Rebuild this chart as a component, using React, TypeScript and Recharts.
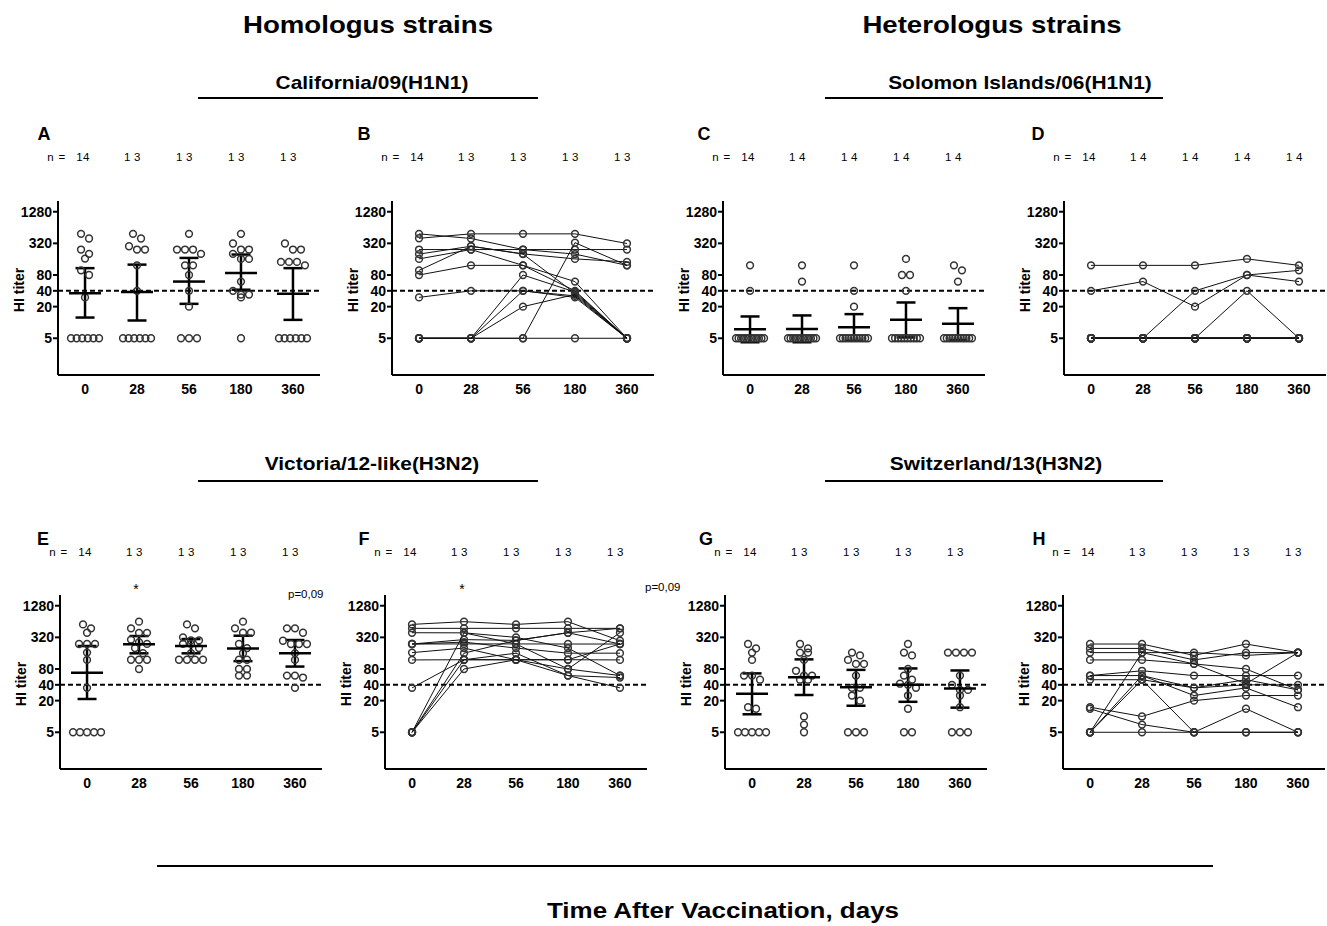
import React from "react";
import {
  ComposedChart,
  Scatter,
  XAxis,
  YAxis,
  ReferenceLine,
  ErrorBar,
} from "recharts";

// ---- data (HI titers) ----
const days = ["0", "28", "56", "180", "360"];
const yTicks = [5, 20, 40, 80, 320, 1280];

const calCounts = [14, 13, 13, 13, 13];
const solCounts = [14, 14, 14, 14, 14];
const vicCounts = [14, 13, 13, 13, 13];
const swiCounts = [14, 13, 13, 13, 13];

// California/09 (A) individual titers per day
const calPoints = [
  [485, 396, 244, 202, 164, 98, 80, 30, 5, 5, 5, 5, 5, 5],
  [485, 396, 282, 244, 244, 122, 40, 5, 5, 5, 5, 5, 5],
  [485, 244, 244, 244, 202, 122, 122, 80, 40, 20, 5, 5, 5],
  [485, 318, 244, 244, 202, 162, 162, 60, 40, 34, 34, 30, 5],
  [318, 244, 244, 142, 142, 142, 122, 5, 5, 5, 5, 5, 5],
];
const calMean = [36, 38, 60, 87, 35];
const calLow = [12.4, 10.9, 22.6, 42, 11.2];
const calHigh = [108, 126, 169, 196, 108];

// Solomon Islands/06 (C)
const solPoints = [
  [122, 40, 5, 5, 5, 5, 5, 5, 5, 5, 5, 5, 5, 5],
  [122, 60, 5, 5, 5, 5, 5, 5, 5, 5, 5, 5, 5, 5],
  [122, 40, 20, 5, 5, 5, 5, 5, 5, 5, 5, 5, 5, 5],
  [162, 80, 80, 40, 5, 5, 5, 5, 5, 5, 5, 5, 5, 5],
  [122, 98, 60, 5, 5, 5, 5, 5, 5, 5, 5, 5, 5, 5],
];
const solMean = [7.4, 7.5, 8.1, 11.2, 9.4];
const solLow = [4.2, 4.2, 4.5, 5.2, 4.6];
const solHigh = [13, 13.6, 14.4, 24, 18.7];

// Victoria/12-like (E)
const vicPoints = [
  [565, 475, 392, 239, 239, 239, 164, 119, 35, 5, 5, 5, 5, 5],
  [636, 475, 390, 390, 290, 260, 240, 200, 160, 120, 120, 120, 80],
  [565, 475, 320, 280, 280, 240, 240, 200, 160, 120, 120, 120, 120],
  [636, 475, 392, 392, 239, 200, 160, 120, 120, 80, 80, 60, 60],
  [475, 475, 392, 276, 239, 239, 239, 160, 119, 60, 55, 60, 35],
];
const vicMean = [68, 236, 219, 197, 159];
const vicLow = [21.5, 159, 159, 113, 89];
const vicHigh = [219, 339, 297, 344, 285];

// Switzerland/13 (G)
const swiPoints = [
  [239, 197, 164, 119, 60, 60, 50, 15, 14, 5, 5, 5, 5, 5],
  [239, 197, 164, 164, 119, 74, 60, 60, 50, 50, 10, 7, 5],
  [164, 145, 119, 100, 100, 60, 35, 35, 25, 20, 5, 5, 5],
  [239, 164, 145, 80, 60, 50, 42, 40, 35, 25, 14, 5, 5],
  [164, 164, 164, 164, 60, 40, 32, 32, 25, 15, 5, 5, 5],
];
const swiMean = [27, 55.5, 36, 40, 34];
const swiLow = [11, 25.6, 16, 19, 14.7];
const swiHigh = [66, 122, 77, 82, 75];

// per-subject trajectories (B, D, F, H); null = missing
const calSubjects = [
  [400, 485, 485, 485, 318],
  [485, 396, 244, 200, 122],
  [244, 244, 244, 244, 244],
  [200, 282, 202, 162, 142],
  [162, 244, 122, 60, 5],
  [98, 282, 200, 36, 5],
  [80, 122, 122, 40, 5],
  [30, 40, 40, 30, 5],
  [5, 5, 80, 38, 5],
  [5, 5, 20, 34, 5],
  [5, 5, 5, 330, 122],
  [5, 5, 5, 5, 5],
  [5, 5, 40, 32, 5],
  [5, null, null, null, null],
];
const solSubjects = [
  [122, 122, 122, 162, 122],
  [40, 60, 20, 80, 60],
  [5, 5, 40, 80, 98],
  [5, 5, 5, 40, 5],
  [5, 5, 5, 5, 5],
  [5, 5, 5, 5, 5],
  [5, 5, 5, 5, 5],
  [5, 5, 5, 5, 5],
  [5, 5, 5, 5, 5],
  [5, 5, 5, 5, 5],
  [5, 5, 5, 5, 5],
  [5, 5, 5, 5, 5],
  [5, 5, 5, 5, 5],
  [5, 5, 5, 5, 5],
];
const vicSubjects = [
  [565, 636, 565, 636, 276],
  [475, 475, 475, 475, 475],
  [392, 390, 240, 80, 60],
  [239, 240, 240, 239, 239],
  [239, 290, 280, 392, 239],
  [239, 260, 200, 160, 160],
  [164, 200, 120, 120, 119],
  [119, 120, 120, 120, 239],
  [35, 120, 160, 60, 35],
  [5, 390, 320, 200, 60],
  [5, 160, 280, 392, 475],
  [5, 120, 120, 60, 55],
  [5, 80, 120, 80, 392],
  [5, null, null, null, null],
];
const swiSubjects = [
  [239, 239, 145, 239, 164],
  [197, 197, 119, 164, 164],
  [164, 164, 164, 145, 164],
  [119, 119, 100, 80, 32],
  [60, 74, 60, 60, 60],
  [60, 60, 35, 40, 40],
  [50, 50, 35, 50, 32],
  [15, 10, 20, 25, 25],
  [14, 7, 5, 14, 5],
  [5, 164, 100, 42, 164],
  [5, 60, 25, 35, 15],
  [5, 50, 5, 5, 5],
  [5, 5, 5, 5, 5],
  [5, null, null, null, null],
];

// ---- layout ----
const FONT = '"Liberation Sans", Arial, Helvetica, sans-serif';
const PLOT_W = 262;
const PLOT_H = 174;
const YAXIS_W = 50;
const XAXIS_H = 30;
const M_TOP = 6;
const M_RIGHT = 8;
const X_DOMAIN: [number, number] = [-0.52, 4.52];
const PX_PER_X = PLOT_W / (X_DOMAIN[1] - X_DOMAIN[0]);
const PX_PER_LOG2 = PLOT_H / 11;
const ROW1 = 201;
const ROW2 = 595;

// GraphPad-like scatter: close values are spread out sideways in rows
function swarm(groups: number[][]) {
  const out: { x: number; y: number }[] = [];
  groups.forEach((vals, gi) => {
    const sorted = [...vals].sort((a, b) => b - a);
    const rows: number[][] = [];
    let rowStart = Infinity;
    sorted.forEach((v) => {
      const py = Math.log2(v) * PX_PER_LOG2;
      if (rows.length === 0 || rowStart - py > 6.5) {
        rows.push([v]);
        rowStart = py;
      } else rows[rows.length - 1].push(v);
    });
    rows.forEach((row) => {
      const n = row.length;
      const step = n > 1 ? Math.min(8, 28 / (n - 1)) : 0;
      row.forEach((v, i) =>
        out.push({ x: gi + ((i - (n - 1) / 2) * step) / PX_PER_X, y: v })
      );
    });
  });
  return out;
}

const OpenDot = (p: any) => (
  <circle cx={p.cx} cy={p.cy} r={3.4} fill="none" stroke="#333" strokeWidth={1.5} />
);

const MeanBar = (p: any) => (
  <line x1={p.cx - 16} x2={p.cx + 16} y1={p.cy} y2={p.cy} stroke="#000" strokeWidth={2.5} />
);

interface PanelProps {
  x0: number;
  top: number;
  points?: number[][];
  mean?: number[];
  low?: number[];
  high?: number[];
  subjects?: (number | null)[][];
}

function Panel({ x0, top, points, mean, low, high, subjects }: PanelProps) {
  const width = YAXIS_W + PLOT_W + M_RIGHT;
  const height = M_TOP + PLOT_H + XAXIS_H;
  const axisStyle = { stroke: "#000", strokeWidth: 2 };
  const tickStyle = { fill: "#000", fontSize: 14, fontWeight: 700 };

  const meanData = mean
    ? mean.map((m, i) => ({ x: i, y: m, err: [m - low![i], high![i] - m] }))
    : [];

  return (
    <div style={{ position: "absolute", left: x0 - YAXIS_W, top: top - M_TOP }}>
      <ComposedChart
        width={width}
        height={height}
        margin={{ top: M_TOP, right: M_RIGHT, bottom: 0, left: 0 }}
      >
        <XAxis
          type="number"
          dataKey="x"
          domain={X_DOMAIN}
          ticks={[0, 1, 2, 3, 4]}
          interval={0}
          allowDataOverflow
          height={XAXIS_H}
          tickFormatter={(v) => days[v] ?? ""}
          tick={tickStyle}
          tickLine={false}
          tickSize={6}
          tickMargin={3}
          axisLine={axisStyle}
        />
        <YAxis
          type="number"
          dataKey="y"
          scale="log"
          domain={[1, 2048]}
          ticks={yTicks}
          interval={0}
          allowDataOverflow
          width={YAXIS_W}
          tick={tickStyle}
          tickLine={axisStyle}
          tickSize={5}
          tickMargin={1}
          axisLine={axisStyle}
        />
        <ReferenceLine y={40} stroke="#000" strokeWidth={2} strokeDasharray="5 3" />
        {points && (
          <Scatter data={swarm(points)} shape={OpenDot} isAnimationActive={false} />
        )}
        {mean && (
          <Scatter data={meanData} shape={MeanBar} isAnimationActive={false}>
            <ErrorBar
              dataKey="err"
              direction="y"
              width={9.5}
              stroke="#000"
              strokeWidth={2.5}
              isAnimationActive={false}
            />
          </Scatter>
        )}
        {subjects &&
          subjects.map((s, si) => (
            <Scatter
              key={si}
              data={s
                .map((v, i) => (v == null ? null : { x: i, y: v }))
                .filter((d) => d !== null)}
              shape={OpenDot}
              line={{ stroke: "#111", strokeWidth: 1 }}
              lineType="joint"
              isAnimationActive={false}
            />
          ))}
      </ComposedChart>
    </div>
  );
}

function Txt({
  x,
  y,
  children,
  size,
  bold = false,
  anchor = "middle",
  sx = 1,
  spacing = 0,
  rotate = 0,
}: any) {
  const tx = anchor === "middle" ? "-50%" : anchor === "end" ? "-100%" : "0";
  return (
    <div
      style={{
        position: "absolute",
        left: x,
        top: y,
        transform: `translate(${tx}, -50%) scaleX(${sx}) rotate(${rotate}deg)`,
        fontSize: size,
        fontWeight: bold ? 700 : 400,
        whiteSpace: "nowrap",
        lineHeight: 1,
        letterSpacing: spacing,
        color: "#000",
      }}
    >
      {children}
    </div>
  );
}

function NRow({ x0, y, counts }: { x0: number; y: number; counts: number[] }) {
  const tick = (i: number) => x0 + (i - X_DOMAIN[0]) * PX_PER_X;
  return (
    <>
      <Txt x={tick(0) - 19} y={y} size={11.5} anchor="end" spacing={0.8}>
        n =
      </Txt>
      {counts.map((c, i) => (
        <Txt key={i} x={tick(i) - (i === 0 ? 2 : 3)} y={y} size={11.5} spacing={i === 0 ? 0.5 : 3.5}>
          {c}
        </Txt>
      ))}
    </>
  );
}

const Rule = ({ x1, x2, y }: { x1: number; x2: number; y: number }) => (
  <div
    style={{
      position: "absolute",
      left: x1,
      top: y - 1,
      width: x2 - x1,
      height: 2,
      background: "#000",
    }}
  />
);

export default function App() {
  const panelsX = { A: 58, B: 392, C: 723, D: 1064, E: 60, F: 385, G: 725, H: 1063 };
  return (
    <div
      style={{
        position: "absolute",
        left: 0,
        top: 0,
        width: 1327,
        height: 926,
        background: "#fff",
        fontFamily: FONT,
        overflow: "hidden",
      }}
    >
      <Txt x={368} y={25} size={24} bold sx={1.15}>
        Homologus strains
      </Txt>
      <Txt x={992} y={25} size={24} bold sx={1.15}>
        Heterologus strains
      </Txt>

      <Txt x={372} y={82} size={19} bold sx={1.1}>
        California/09(H1N1)
      </Txt>
      <Txt x={1020} y={82} size={19} bold sx={1.1}>
        Solomon Islands/06(H1N1)
      </Txt>
      <Rule x1={198} x2={538} y={98} />
      <Rule x1={825} x2={1163} y={98} />

      <Txt x={372} y={463} size={19} bold sx={1.1}>
        Victoria/12-like(H3N2)
      </Txt>
      <Txt x={996} y={463} size={19} bold sx={1.1}>
        Switzerland/13(H3N2)
      </Txt>
      <Rule x1={198} x2={538} y={481} />
      <Rule x1={825} x2={1163} y={481} />

      <Rule x1={157} x2={1213} y={866} />
      <Txt x={723} y={911} size={22} bold sx={1.18}>
        Time After Vaccination, days
      </Txt>

      {/* panel letters */}
      <Txt x={44} y={134} size={18} bold>A</Txt>
      <Txt x={364} y={134} size={18} bold>B</Txt>
      <Txt x={704} y={134} size={18} bold>C</Txt>
      <Txt x={1038} y={134} size={18} bold>D</Txt>
      <Txt x={43} y={539} size={18} bold>E</Txt>
      <Txt x={364} y={539} size={18} bold>F</Txt>
      <Txt x={706} y={539} size={18} bold>G</Txt>
      <Txt x={1039} y={539} size={18} bold>H</Txt>

      <NRow x0={panelsX.A} y={158} counts={calCounts} />
      <NRow x0={panelsX.B} y={158} counts={calCounts} />
      <NRow x0={panelsX.C} y={158} counts={solCounts} />
      <NRow x0={panelsX.D} y={158} counts={solCounts} />
      <NRow x0={panelsX.E} y={553} counts={vicCounts} />
      <NRow x0={panelsX.F} y={553} counts={vicCounts} />
      <NRow x0={panelsX.G} y={553} counts={swiCounts} />
      <NRow x0={panelsX.H} y={553} counts={swiCounts} />

      {/* y-axis titles */}
      {Object.entries(panelsX).map(([k, x]) => (
        <Txt
          key={k}
          x={x - 39}
          y={"ABCD".includes(k) ? 290 : 684}
          size={14}
          bold
          rotate={-90}
        >
          HI titer
        </Txt>
      ))}

      {/* significance marks */}
      <Txt x={136} y={589} size={14}>*</Txt>
      <Txt x={462} y={589} size={14}>*</Txt>
      <Txt x={288} y={595} size={11.5} anchor="start">p=0,09</Txt>
      <Txt x={645} y={588} size={11.5} anchor="start">p=0,09</Txt>

      <Panel x0={panelsX.A} top={ROW1} points={calPoints} mean={calMean} low={calLow} high={calHigh} />
      <Panel x0={panelsX.B} top={ROW1} subjects={calSubjects} />
      <Panel x0={panelsX.C} top={ROW1} points={solPoints} mean={solMean} low={solLow} high={solHigh} />
      <Panel x0={panelsX.D} top={ROW1} subjects={solSubjects} />
      <Panel x0={panelsX.E} top={ROW2} points={vicPoints} mean={vicMean} low={vicLow} high={vicHigh} />
      <Panel x0={panelsX.F} top={ROW2} subjects={vicSubjects} />
      <Panel x0={panelsX.G} top={ROW2} points={swiPoints} mean={swiMean} low={swiLow} high={swiHigh} />
      <Panel x0={panelsX.H} top={ROW2} subjects={swiSubjects} />
    </div>
  );
}
